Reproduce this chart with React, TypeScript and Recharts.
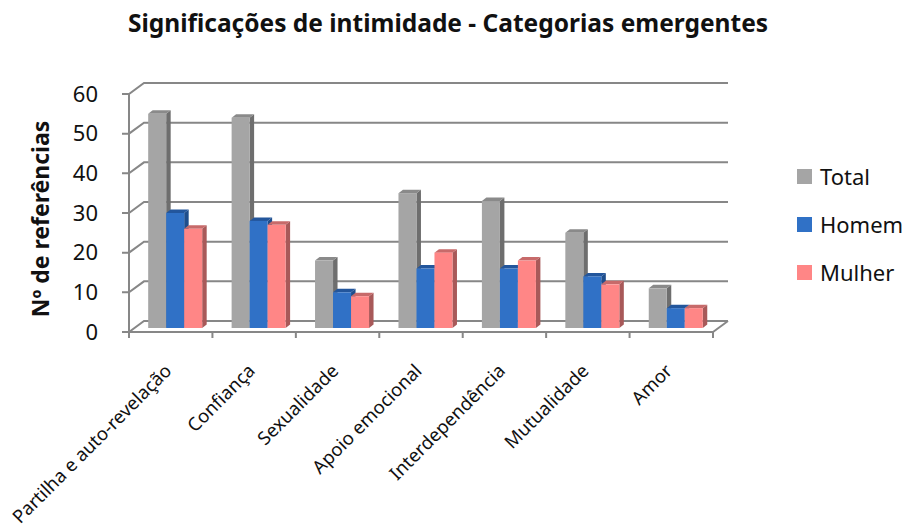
import React from "react";
import { BarChart, Bar, XAxis, YAxis, CartesianGrid, Legend } from "recharts";

const categories = [
  "Partilha e auto-revelação",
  "Confiança",
  "Sexualidade",
  "Apoio emocional",
  "Interdependência",
  "Mutualidade",
  "Amor",
];
const totalValues = [54, 53, 17, 34, 32, 24, 10];
const homemValues = [29, 27, 9, 15, 15, 13, 5];
const mulherValues = [25, 26, 8, 19, 17, 11, 5];
const yTicks = [0, 10, 20, 30, 40, 50, 60];

const series = [
  { key: "Total", front: "#A5A5A5", side: "#6E6E6E", top: "#8A8A8A" },
  { key: "Homem", front: "#3071C6", side: "#1F4E8C", top: "#23569C" },
  { key: "Mulher", front: "#FF8686", side: "#A85959", top: "#C76A6A" },
];

const data = categories.map((name, i) => ({
  name,
  Total: totalValues[i],
  Homem: homemValues[i],
  Mulher: mulherValues[i],
}));

const FONT = "'Noto Sans', 'Open Sans', sans-serif";
const W = 910;
const H = 528;
const PLOT_LEFT = 129;
const PLOT_RIGHT = 713;
const PLOT_TOP = 94;
const PLOT_BOTTOM = 332;
const Y_AXIS_W = 60;
const X_AXIS_H = 30;
const DEPTH_X = 15;
const DEPTH_Y = -11;
const GRID = "#878787";

// offset of the bars inside the box, and their own depth
const BAR_DX = 5;
const BAR_DY = -4;
const BAR_DEPTH_X = 4.5;
const BAR_DEPTH_Y = -3.5;

const makeShape = (s: (typeof series)[number]) => (props: any) => {
  const { x, y, width, height } = props;
  if (!height || height <= 0) return <g />;
  const fx = x + BAR_DX;
  const fy = y + BAR_DY;
  const r = fx + width;
  const b = fy + height;
  return (
    <g>
      <polygon
        points={`${r},${fy} ${r + BAR_DEPTH_X},${fy + BAR_DEPTH_Y} ${r + BAR_DEPTH_X},${b + BAR_DEPTH_Y} ${r},${b}`}
        fill={s.side}
      />
      <polygon
        points={`${fx},${fy} ${fx + BAR_DEPTH_X},${fy + BAR_DEPTH_Y} ${r + BAR_DEPTH_X},${fy + BAR_DEPTH_Y} ${r},${fy}`}
        fill={s.top}
      />
      <rect x={fx} y={fy} width={width} height={height} fill={s.front} />
    </g>
  );
};

const gridLine = (props: any) => {
  const { x1, x2, y1, index } = props;
  const isFloor = Math.abs(y1 - PLOT_BOTTOM) < 1;
  return (
    <g key={`grid-${index}`}>
      <path
        d={`M${x1 - 7},${y1} L${x1},${y1} L${x1 + DEPTH_X},${y1 + DEPTH_Y} L${x2 + DEPTH_X},${y1 + DEPTH_Y}`}
        stroke={GRID}
        strokeWidth={2}
        fill="none"
      />
      {isFloor && (
        <path
          d={`M${x2},${y1} L${x2 + DEPTH_X},${y1 + DEPTH_Y}`}
          stroke={GRID}
          strokeWidth={2}
          fill="none"
        />
      )}
    </g>
  );
};

const XTick = (props: any) => {
  const { x, payload, index } = props;
  const band = (PLOT_RIGHT - PLOT_LEFT) / categories.length;
  const lx = x + 2;
  const ly = PLOT_BOTTOM + 40;
  return (
    <g>
      <line x1={x - band / 2} y1={PLOT_BOTTOM} x2={x - band / 2} y2={PLOT_BOTTOM + 6} stroke={GRID} strokeWidth={2} />
      {index === categories.length - 1 && (
        <line x1={x + band / 2} y1={PLOT_BOTTOM} x2={x + band / 2} y2={PLOT_BOTTOM + 6} stroke={GRID} strokeWidth={2} />
      )}
      <text
        x={lx}
        y={ly}
        transform={`rotate(-45, ${lx}, ${ly})`}
        textAnchor="end"
        fontSize={18.5}
        fontFamily={FONT}
        fill="#111"
      >
        {payload.value}
      </text>
    </g>
  );
};

const YLabel = (props: any) => {
  const { viewBox } = props;
  const cx = 49;
  const cy = viewBox.y + viewBox.height / 2 + 6;
  return (
    <text
      x={cx}
      y={cy}
      transform={`rotate(-90, ${cx}, ${cy})`}
      textAnchor="middle"
      fontSize={23}
      fontWeight={700}
      fontFamily={FONT}
      fill="#111"
    >
      Nº de referências
    </text>
  );
};

const LegendBox = () => (
  <div style={{ fontFamily: FONT, fontSize: 22, color: "#111" }}>
    {series.map((s) => (
      <div key={s.key} style={{ display: "flex", alignItems: "center", height: 48 }}>
        <span style={{ width: 15, height: 15, background: s.front, marginRight: 8 }} />
        <span>{s.key}</span>
      </div>
    ))}
  </div>
);

export default function App() {
  return (
    <div style={{ position: "absolute", left: 0, top: 0, width: W, height: H, background: "#fff" }}>
      <div
        style={{
          position: "absolute",
          left: -7,
          top: 6,
          width: W,
          textAlign: "center",
          fontFamily: FONT,
          fontWeight: 700,
          fontSize: 24.5,
          color: "#111",
        }}
      >
        Significações de intimidade - Categorias emergentes
      </div>
      <BarChart
        width={W}
        height={H}
        data={data}
        margin={{
          top: PLOT_TOP,
          right: W - PLOT_RIGHT,
          bottom: H - PLOT_BOTTOM - X_AXIS_H,
          left: PLOT_LEFT - Y_AXIS_W,
        }}
        barCategoryGap="17%"
        barGap={0}
      >
        <CartesianGrid vertical={false} horizontal={gridLine} />
        <XAxis
          dataKey="name"
          interval={0}
          height={X_AXIS_H}
          axisLine={{ stroke: GRID, strokeWidth: 2 }}
          tickLine={false}
          tick={<XTick />}
        />
        <YAxis
          width={Y_AXIS_W}
          domain={[0, 60]}
          ticks={yTicks}
          interval={0}
          axisLine={{ stroke: GRID, strokeWidth: 2 }}
          tickLine={false}
          tickMargin={25}
          tick={{ fontSize: 22, fontFamily: FONT, fill: "#111" }}
          label={{ value: "Nº de referências", content: <YLabel /> }}
        />
        <Legend
          layout="vertical"
          align="center"
          verticalAlign="middle"
          content={<LegendBox />}
          wrapperStyle={{ left: 797, top: 152, width: 120 }}
        />
        {series.map((s) => (
          <Bar key={s.key} dataKey={s.key} isAnimationActive={false} shape={makeShape(s)} />
        ))}
      </BarChart>
    </div>
  );
}
